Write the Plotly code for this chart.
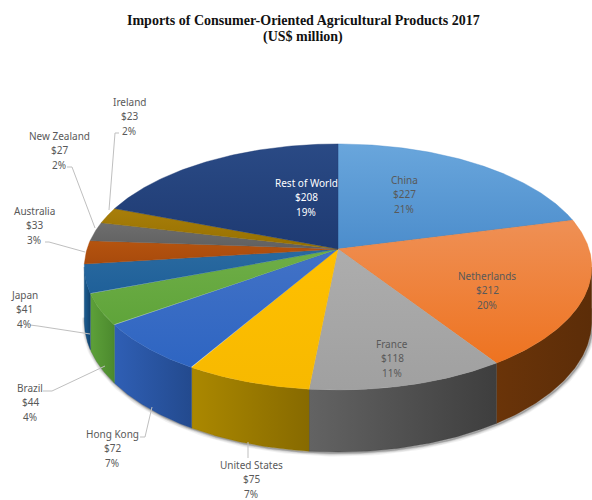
import numpy as np
import plotly.graph_objects as go

# ---- data ----
CATEGORIES = ["China", "Netherlands", "France", "United States", "Hong Kong", "Brazil",
              "Japan", "Australia", "New Zealand", "Ireland", "Rest of World"]
VALUES = [227, 212, 118, 75, 72, 44, 41, 33, 27, 23, 208]
PERCENTS = [21, 20, 11, 7, 7, 4, 4, 3, 2, 2, 19]
TITLE_LINES = ["Imports of Consumer-Oriented Agricultural Products 2017", "(US$ million)"]

# ---- style ----
TOP_COLORS = [("#69a6dc", "#4c8dcc"), ("#ef9055", "#ee7320"), ("#adadad", "#a0a0a0"),
              ("#ffc000", "#f7b900"), ("#4272c6", "#2e65c2"), ("#6fae47", "#5fa43a"),
              ("#2a6aa0", "#1f6099"), ("#b5540f", "#a84a0c"), ("#6e6e6e", "#606060"),
              ("#a87e0a", "#967000"), ("#2a4a85", "#1e3a72")]
SIDE_COLORS = [("#5f2f0b", "#5f2f0b"), ("#6a3409", "#5c2d08"), ("#636363", "#3e3e3e"),
               ("#ab8800", "#876a00"), ("#2f5fb5", "#234a8e"), ("#5da039", "#4c8a2e"),
               ("#1c5d91", "#124470"), ("#7a3a0a", "#7a3a0a"), ("#555555", "#555555"),
               ("#7a5c00", "#7a5c00"), ("#1c3564", "#1c3564")]
LABEL_COLOR = "#595959"
FONT = "Noto Sans"

# label centre (px) per category: x, y of the middle line
LABEL_POS = {"China": (404, 194), "Netherlands": (487, 290), "France": (392, 358),
             "United States": (251, 479), "Hong Kong": (112, 448), "Brazil": (30, 402),
             "Japan": (24, 309), "Australia": (34, 225), "New Zealand": (59, 150),
             "Ireland": (129, 116), "Rest of World": (306, 197)}
LINE_STEP = 14.5
LEADERS = {"Ireland": [(119, 133), (115, 133), (109, 210)],
           "New Zealand": [(67, 167), (72, 167), (95, 228)],
           "Australia": [(45, 242), (49, 242), (85, 252)],
           "Japan": [(30, 325), (38, 326), (90, 334)],
           "Brazil": [(43, 391), (52, 391), (105, 366)],
           "Hong Kong": [(140, 437), (145, 437), (152, 407)],
           "United States": [(248, 458), (248, 442)]}

# perspective pie geometry
CX, CY, A, B, P, DEPTH = 338, 249, 251, 120.4, 0.146, 53


def project(theta_deg, drop=0.0):
    t = np.radians(theta_deg)
    u, v = np.sin(t), -np.cos(t)
    d = 1 - P * v
    return CX + A * u / d, CY + B * v / d + drop * DEPTH / d


vals = np.array(VALUES, float)
edges = np.concatenate([[0], np.cumsum(vals)]) / vals.sum() * 360
VIS_LO = 98.4
VIS_HI = 261.6

fig = go.Figure()


def poly(x, y, colors, kind, flip=False):
    c0, c1 = (colors[1], colors[0]) if flip else colors
    fig.add_trace(go.Scatter(
        x=x, y=y, mode="lines", fill="toself",
        line=dict(color=colors[1], width=0.4),
        fillgradient=dict(type=kind, colorscale=[[0, c0], [1, c1]]),
        hoverinfo="skip", showlegend=False))


# soft shadow under the rim
sh = np.linspace(VIS_LO - 6, VIS_HI + 2, 200)
sx, sy = project(sh, 1.0)
for w, op in [(7, 0.06), (5, 0.09), (3, 0.14), (1.5, 0.25)]:
    fig.add_trace(go.Scatter(x=sx + 1, y=sy + 1, mode="lines",
                             line=dict(color="#333333", width=w), opacity=op,
                             hoverinfo="skip", showlegend=False))

# side walls
for i in range(len(VALUES)):
    lo, hi = max(edges[i], VIS_LO), min(edges[i + 1], VIS_HI)
    if hi <= lo:
        continue
    th = np.linspace(lo, hi, 60)
    x1, y1 = project(th)
    x2, y2 = project(th[::-1], 1.0)
    poly(np.r_[x1, x2, x1[0]], np.r_[y1, y2, y1[0]], SIDE_COLORS[i], "horizontal")

# top faces (y axis is reversed, so the vertical gradient is flipped)
for i in range(len(VALUES)):
    th = np.linspace(edges[i], edges[i + 1], 120)
    x1, y1 = project(th)
    poly(np.r_[CX, x1, CX], np.r_[CY, y1, CY], TOP_COLORS[i], "vertical", flip=True)

# leader lines
for name, pts in LEADERS.items():
    fig.add_trace(go.Scatter(x=[p[0] for p in pts], y=[p[1] for p in pts], mode="lines",
                             line=dict(color="#bfbfbf", width=1),
                             hoverinfo="skip", showlegend=False))

annotations = []
for name, val, pct in zip(CATEGORIES, VALUES, PERCENTS):
    px, py = LABEL_POS[name]
    color = "#ffffff" if name == "Rest of World" else LABEL_COLOR
    for k, line in enumerate([name, f"${val}", f"{pct}%"]):
        annotations.append(dict(x=px, y=py + (k - 1) * LINE_STEP, text=line, showarrow=False,
                                xanchor="center", yanchor="middle", align="center", borderpad=0,
                                font=dict(family=FONT, size=10, color=color)))

for y, line in zip((20, 37), TITLE_LINES):
    annotations.append(dict(x=303, y=y, text=f"<b>{line}</b>", showarrow=False,
                            xanchor="center", yanchor="middle", align="center",
                            font=dict(family="Liberation Serif", size=14, color="#111111")))

fig.update_layout(
    width=592, height=500, margin=dict(l=0, r=0, t=0, b=0),
    paper_bgcolor="white", plot_bgcolor="white", showlegend=False,
    xaxis=dict(range=[0, 592], visible=False, fixedrange=True),
    yaxis=dict(range=[500, 0], visible=False, fixedrange=True),
    annotations=annotations,
)
fig.write_html("out.html", config={"displayModeBar": False},
               post_script="document.body.style.margin='0';")
